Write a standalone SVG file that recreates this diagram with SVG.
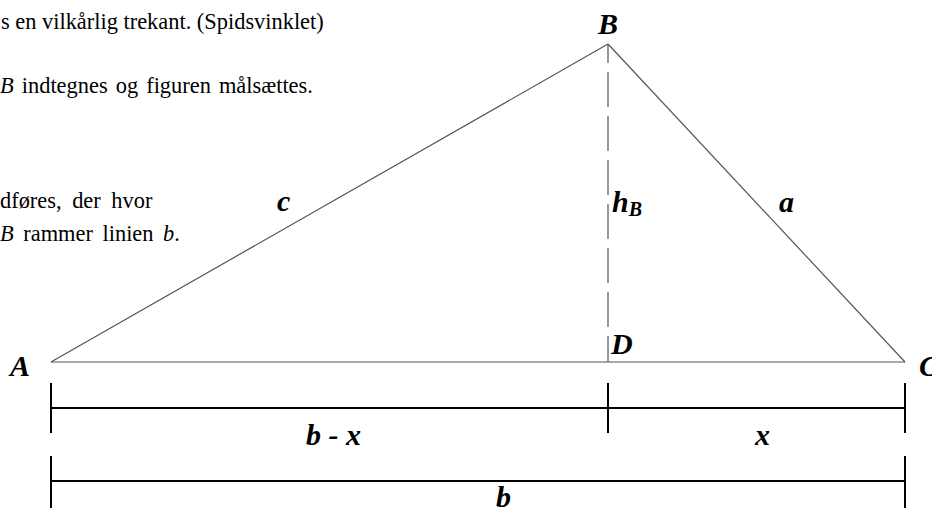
<svg xmlns="http://www.w3.org/2000/svg" width="932" height="508" viewBox="0 0 932 508">
<style>
.txt{font-family:"Liberation Serif","Times New Roman",serif;font-size:22.4px;fill:#000}
.lbl{font-family:"Liberation Serif","Times New Roman",serif;font-size:30px;font-weight:bold;font-style:italic;fill:#000}
.side{stroke:#555;stroke-width:1.2;fill:none}
.dim{stroke:#000;stroke-width:2;fill:none}
</style>
<rect width="932" height="508" fill="#fff"/>
<g id="paragraph">
<text class="txt" x="1" y="29">s en vilkårlig trekant. (Spidsvinklet)</text>
<text class="txt" x="0" y="93" font-size="23" word-spacing="2.5"><tspan font-style="italic">B</tspan> indtegnes og figuren målsættes.</text>
<text class="txt" x="0" y="208" font-size="24" word-spacing="5">dføres, der hvor</text>
<text class="txt" x="0" y="241" font-size="24" word-spacing="4"><tspan font-style="italic">B</tspan> rammer linien <tspan font-style="italic">b</tspan>.</text>
</g>
<g id="connectors">
<line class="side" x1="51" y1="362" x2="608" y2="44"/>
<line class="side" x1="608" y1="44" x2="905" y2="362"/>
<line class="side" x1="51" y1="362" x2="905" y2="362"/>
<line class="side" x1="608" y1="44" x2="608" y2="362" stroke-dasharray="35 9" stroke-dashoffset="16"/>
<line class="dim" x1="51" y1="408" x2="905" y2="408"/>
<line class="dim" x1="51" y1="383" x2="51" y2="433"/>
<line class="dim" x1="608" y1="383" x2="608" y2="433"/>
<line class="dim" x1="905" y1="383" x2="905" y2="433"/>
<line class="dim" x1="51" y1="481" x2="905" y2="481"/>
<line class="dim" x1="51" y1="456" x2="51" y2="508"/>
<line class="dim" x1="905" y1="456" x2="905" y2="508"/>
</g>
<g id="node-A"><text class="lbl" x="10" y="376">A</text></g>
<g id="node-B"><text class="lbl" x="598" y="34">B</text></g>
<g id="node-C"><text class="lbl" x="919" y="376">C</text></g>
<g id="node-D"><text class="lbl" x="611" y="354">D</text></g>
<g id="label-c"><text class="lbl" x="277" y="211">c</text></g>
<g id="label-a"><text class="lbl" x="779" y="212">a</text></g>
<g id="label-hB"><text class="lbl" x="612" y="212">h<tspan font-size="20" dy="4">B</tspan></text></g>
<g id="label-bx"><text class="lbl" x="306" y="445">b - x</text></g>
<g id="label-x"><text class="lbl" x="755" y="445">x</text></g>
<g id="label-b"><text class="lbl" x="496" y="507">b</text></g>
</svg>
